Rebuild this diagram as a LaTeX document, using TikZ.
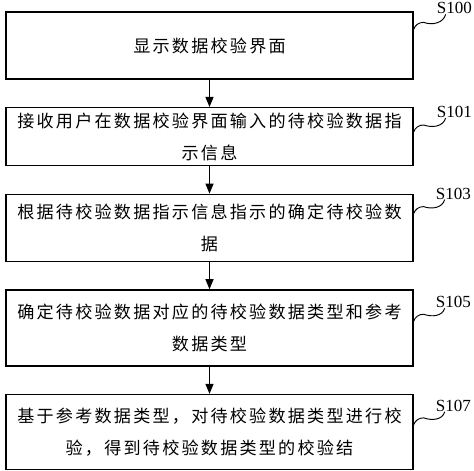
\documentclass[tikz,border=0pt]{standalone}
\usepackage{fontspec}
\setmainfont{Liberation Serif}
\newfontfamily\cjk[LetterSpace=13]{Noto Sans CJK SC}
\usetikzlibrary{positioning,calc,arrows.meta}

\begin{document}
\begin{tikzpicture}
  [stepN/.style={draw,line width=1.1pt,minimum width=12.21cm,inner sep=0pt,align=center,
     font=\cjk\fontsize{14.6pt}{27.3pt}\selectfont},
   labelN/.style={font=\rmfamily\fontsize{14.5pt}{17pt}\selectfont,inner sep=0pt,anchor=south west},
   arrowE/.style={-{Triangle[length=0.3cm,width=0.24cm]},line width=1pt},
   squigE/.style={line width=0.8pt},
   node distance=0.82cm]

  \useasboundingbox (0,0) rectangle (14.22,-14.1);

  \node[stepN,minimum height=2.01cm] (s100) at (6.285,-1.365) {显示数据校验界面};
  \node[stepN,minimum height=1.74cm] (s101) [below=of s100] {接收用户在数据校验界面输入的待校验数据指\\示信息};
  \node[stepN,minimum height=2.01cm] (s103) [below=of s101] {根据待校验数据指示信息指示的确定待校验数\\据};
  \node[stepN,minimum height=2.28cm] (s105) [below=of s103] {确定待校验数据对应的待校验数据类型和参考\\数据类型};
  \node[stepN,minimum height=2.25cm] (s107) [below=of s105] {基于参考数据类型，对待校验数据类型进行校\\验，得到待校验数据类型的校验结};

  \draw[arrowE] (s100) -- (s101);
  \draw[arrowE] (s101) -- (s103);
  \draw[arrowE] (s103) -- (s105);
  \draw[arrowE] (s105) -- (s107);

  % step labels
  \coordinate (w100) at ($(s100.north east)+(0,-0.54)$);
  \coordinate (e100) at ($(w100)+(0.96,0.45)$);
  \node[labelN] (l100) at ([xshift=-0.27cm]e100) {S100};
  \draw[squigE] (w100) to[out=70,in=180] ($(w100)+(0.3,0.21)$) to[out=-20,in=-105] (e100);

  \coordinate (w101) at ($(s101.north east)+(0,-0.75)$);
  \coordinate (e101) at ($(w101)+(0.96,0.42)$);
  \node[labelN] (l101) at ([xshift=-0.27cm]e101) {S101};
  \draw[squigE] (w101) to[out=70,in=180] ($(w101)+(0.3,0.21)$) to[out=-20,in=-105] (e101);

  \coordinate (w103) at ($(s103.north east)+(0,-0.6)$);
  \coordinate (e103) at ($(w103)+(0.93,0.42)$);
  \node[labelN] (l103) at ([xshift=-0.27cm]e103) {S103};
  \draw[squigE] (w103) to[out=70,in=180] ($(w103)+(0.3,0.21)$) to[out=-20,in=-105] (e103);

  \coordinate (w105) at ($(s105.north east)+(0,-0.96)$);
  \coordinate (e105) at ($(w105)+(0.93,0.39)$);
  \node[labelN] (l105) at ([xshift=-0.27cm]e105) {S105};
  \draw[squigE] (w105) to[out=70,in=180] ($(w105)+(0.3,0.21)$) to[out=-20,in=-105] (e105);

  \coordinate (w107) at ($(s107.north east)+(0,-0.93)$);
  \coordinate (e107) at ($(w107)+(0.93,0.39)$);
  \node[labelN] (l107) at ([xshift=-0.27cm]e107) {S107};
  \draw[squigE] (w107) to[out=70,in=180] ($(w107)+(0.3,0.21)$) to[out=-20,in=-105] (e107);

\end{tikzpicture}
\end{document}
